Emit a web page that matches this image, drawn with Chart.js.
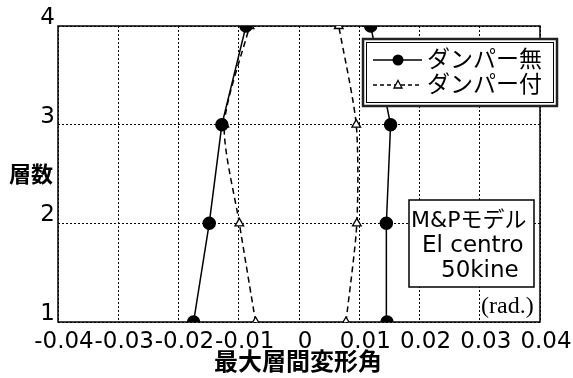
<!DOCTYPE html>
<html lang="ja">
<head>
  <meta charset="UTF-8">
  <title>最大層間変形角</title>
  <script src="https://cdn.jsdelivr.net/npm/chart.js@4"></script>
  <style>
    html, body { margin: 0; padding: 0; background: #fff; }
    #wrap { width: 573px; height: 378px; }
  </style>
</head>
<body>
  <div id="wrap"><canvas id="driftChart" width="573" height="378"></canvas></div>

  <script>
    // 層数 (縦軸) と最大層間変形角 (rad.)
    const floors = [1, 2, 3, 4];
    const xTickValues = [-0.04, -0.03, -0.02, -0.01, 0, 0.01, 0.02, 0.03, 0.04];
    const xTickLabels = ['-0.04', '-0.03', '-0.02', '-0.01', '0', '0.01', '0.02', '0.03', '0.04'];

    const noDamperMin = [-0.0175, -0.0149, -0.0128, -0.0088];
    const noDamperMax = [0.0146, 0.0145, 0.0152, 0.0119];
    const damperMin = [-0.0072, -0.0099, -0.0124, -0.0082];
    const damperMax = [0.0078, 0.0096, 0.0095, 0.0066];

    const seriesNames = ['ダンパー無', 'ダンパー付'];
    const noteLines = ['M&Pモデル', 'El centro', '50kine'];
    const unitLabel = '(rad.)';
    const xTitle = '最大層間変形角';
    const yTitle = '層数';

    const FONT = '"DejaVu Sans", "Noto Sans CJK JP", sans-serif';

    function toPoints(values) {
      return values.map((v, i) => ({ x: v, y: floors[i] }));
    }

    function solidSet(values) {
      return {
        label: seriesNames[0],
        data: toPoints(values),
        showLine: true,
        borderColor: '#000',
        borderWidth: 1.5,
        tension: 0,
        pointStyle: 'circle',
        pointRadius: 6,
        pointBackgroundColor: '#000',
        pointBorderColor: '#000'
      };
    }

    function dashedSet(values) {
      return {
        label: seriesNames[1],
        data: toPoints(values),
        showLine: true,
        borderColor: '#000',
        borderWidth: 1.5,
        borderDash: [6, 4],
        tension: 0.25,
        pointStyle: 'triangle',
        pointRadius: 5,
        pointBorderWidth: 1.3,
        pointBackgroundColor: '#fff',
        pointBorderColor: '#000'
      };
    }

    const framePlugin = {
      id: 'frame',
      beforeDatasetsDraw(chart) {
        const { ctx, chartArea: a } = chart;
        ctx.save();
        ctx.strokeStyle = '#000';
        ctx.lineWidth = 1.5;
        ctx.strokeRect(a.left, a.top, a.right - a.left, a.bottom - a.top);
        ctx.restore();
      }
    };

    const overlayPlugin = {
      id: 'overlay',
      afterDraw(chart) {
        const ctx = chart.ctx;
        ctx.save();

        // 凡例
        ctx.fillStyle = '#fff';
        ctx.fillRect(362, 38, 196, 69);
        ctx.strokeStyle = '#222';
        ctx.lineWidth = 2.5;
        ctx.strokeRect(363, 39, 194, 67);
        ctx.lineWidth = 1;
        ctx.strokeStyle = '#000';
        ctx.strokeRect(366.5, 42.5, 187, 60);

        ctx.lineWidth = 1.5;
        ctx.beginPath();
        ctx.moveTo(373, 60);
        ctx.lineTo(422, 60);
        ctx.stroke();
        ctx.fillStyle = '#000';
        ctx.beginPath();
        ctx.arc(398, 60, 5.5, 0, Math.PI * 2);
        ctx.fill();

        ctx.setLineDash([4, 3]);
        ctx.beginPath();
        ctx.moveTo(373, 85);
        ctx.lineTo(422, 85);
        ctx.stroke();
        ctx.setLineDash([]);
        ctx.fillStyle = '#fff';
        ctx.lineWidth = 1.3;
        ctx.beginPath();
        ctx.moveTo(398, 80.5);
        ctx.lineTo(402, 88);
        ctx.lineTo(394, 88);
        ctx.closePath();
        ctx.fill();
        ctx.stroke();

        ctx.fillStyle = '#000';
        ctx.font = '23px ' + FONT;
        ctx.textAlign = 'left';
        ctx.textBaseline = 'middle';
        ctx.fillText(seriesNames[0], 427, 61);
        ctx.fillText(seriesNames[1], 427, 86);

        // 注記
        ctx.fillStyle = '#fff';
        ctx.fillRect(409, 200, 125, 87);
        ctx.strokeStyle = '#000';
        ctx.lineWidth = 1.5;
        ctx.strokeRect(409, 200, 125, 87);
        ctx.fillStyle = '#000';
        ctx.font = '22px ' + FONT;
        ctx.fillText(noteLines[0], 411, 221);
        ctx.font = '23px ' + FONT;
        ctx.fillText(noteLines[1], 422, 246);
        ctx.fillText(noteLines[2], 441, 271);

        ctx.font = '24px "Liberation Serif", serif';
        ctx.fillText(unitLabel, 481, 307);

        // 軸タイトル
        ctx.textAlign = 'center';
        ctx.font = 'bold 22px ' + FONT;
        ctx.fillText(yTitle, 31, 176);
        ctx.font = 'bold 24px ' + FONT;
        ctx.fillText(xTitle, 298, 364);

        ctx.restore();
      }
    };

    new Chart(document.getElementById('driftChart').getContext('2d'), {
      type: 'scatter',
      data: {
        datasets: [
          solidSet(noDamperMin),
          solidSet(noDamperMax),
          dashedSet(damperMin),
          dashedSet(damperMax)
        ]
      },
      options: {
        responsive: false,
        animation: false,
        layout: { padding: { top: 26, right: 33, left: 0, bottom: 0 } },
        plugins: {
          legend: { display: false },
          tooltip: { enabled: false }
        },
        scales: {
          x: {
            type: 'linear',
            min: -0.04,
            max: 0.04,
            afterBuildTicks(scale) {
              scale.ticks = xTickValues.map(v => ({ value: v }));
            },
            afterFit(scale) { scale.height = 56; },
            ticks: {
              callback: (v, i) => xTickLabels[i],
              color: '#000',
              font: { family: FONT, size: 23 },
              padding: 6,
              labelOffset: 6,
              maxRotation: 0,
              autoSkip: false
            },
            grid: { color: '#000', lineWidth: 1, drawTicks: false },
            border: { display: false, dash: [2, 2] }
          },
          y: {
            type: 'linear',
            min: 1,
            max: 4,
            afterBuildTicks(scale) {
              scale.ticks = floors.map(v => ({ value: v }));
            },
            afterFit(scale) { scale.width = 58; },
            ticks: {
              color: '#000',
              font: { family: FONT, size: 23 },
              padding: 3,
              labelOffset: -8
            },
            grid: { color: '#000', lineWidth: 1, drawTicks: false },
            border: { display: false, dash: [2, 2] }
          }
        }
      },
      plugins: [framePlugin, overlayPlugin]
    });
  </script>
</body>
</html>
